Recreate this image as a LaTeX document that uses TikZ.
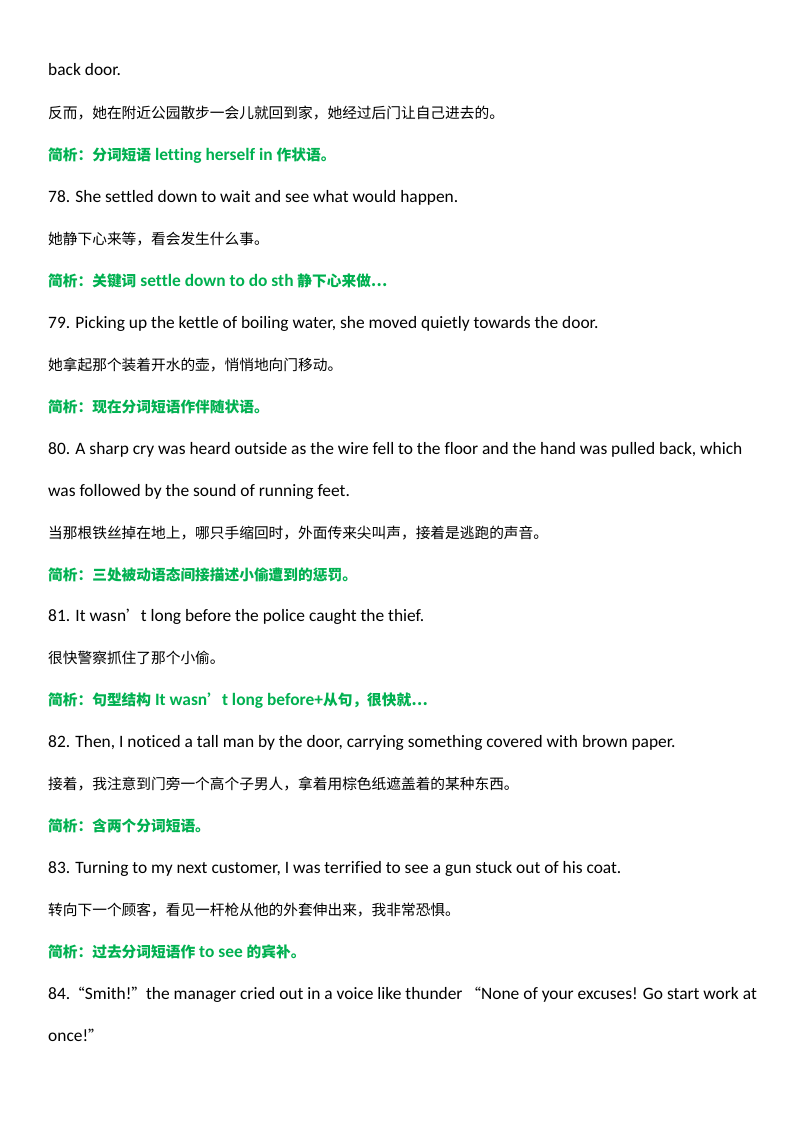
\documentclass[tikz,border=0pt]{standalone}
\usepackage{fontspec}
\setmainfont{Carlito}[Ligatures=NoCommon]
\newfontfamily\cjk{Noto Sans CJK SC}[Scale=0.845]
\definecolor{gr}{RGB}{0,176,80}
\begin{document}
\begin{tikzpicture}[x=1pt,y=-1pt,
  ln/.style={anchor=base west,inner sep=0pt,font=\fontsize{17.4}{20}\selectfont},
  gl/.style={ln,text=gr,font=\fontsize{17.4}{20}\selectfont\bfseries}]
\useasboundingbox (0,0) rectangle (800,1132);
\node[ln] (l1) at (48,76) {back door.};
\node[ln] (l2) at (48,118) {\cjk 反而，她在附近公园散步一会儿就回到家，她经过后门让自己进去的。};
\node[gl] (l3) at (48,160) {{\cjk 简析：分词短语} letting herself in {\cjk 作状语。}};
\node[ln] (l4) at (48,202) {78. She settled down to wait and see what would happen.};
\node[ln] (l5) at (48,244) {\cjk 她静下心来等，看会发生什么事。};
\node[gl] (l6) at (48,286) {{\cjk 简析：关键词} settle down to do sth {\cjk 静下心来做…}};
\node[ln] (l7) at (48,328) {79. Picking up the kettle of boiling water, she moved quietly towards the door.};
\node[ln] (l8) at (48,370) {\cjk 她拿起那个装着开水的壶，悄悄地向门移动。};
\node[gl] (l9) at (48,412) {\cjk 简析：现在分词短语作伴随状语。};
\node[ln] (l10) at (48,454) {80. A sharp cry was heard outside as the wire fell to the floor and the hand was pulled back, which};
\node[ln] (l11) at (48,496) {was followed by the sound of running feet.};
\node[ln] (l12) at (48,538) {\cjk 当那根铁丝掉在地上，哪只手缩回时，外面传来尖叫声，接着是逃跑的声音。};
\node[gl] (l13) at (48,580) {\cjk 简析：三处被动语态间接描述小偷遭到的惩罚。};
\node[ln] (l14) at (48,621) {81. It wasn{\cjk ’}t long before the police caught the thief.};
\node[ln] (l15) at (48,663) {\cjk 很快警察抓住了那个小偷。};
\node[gl] (l16) at (48,705) {{\cjk 简析：句型结构} It wasn{\cjk ’}t long before+{\cjk 从句，很快就…}};
\node[ln] (l17) at (48,747) {82. Then, I noticed a tall man by the door, carrying something covered with brown paper.};
\node[ln] (l18) at (48,789) {\cjk 接着，我注意到门旁一个高个子男人，拿着用棕色纸遮盖着的某种东西。};
\node[gl] (l19) at (48,831) {\cjk 简析：含两个分词短语。};
\node[ln] (l20) at (48,873) {83. Turning to my next customer, I was terrified to see a gun stuck out of his coat.};
\node[ln] (l21) at (48,915) {\cjk 转向下一个顾客，看见一杆枪从他的外套伸出来，我非常恐惧。};
\node[gl] (l22) at (48,957) {{\cjk 简析：过去分词短语作} to see {\cjk 的宾补。}};
\node[ln] (l23) at (48,999) {84.{\cjk “}Smith!{\cjk ”}the manager cried out in a voice like thunder {\cjk “}None of your excuses! Go start work at};
\node[ln] (l24) at (48,1041) {once!{\cjk ”}};
\end{tikzpicture}
\end{document}
